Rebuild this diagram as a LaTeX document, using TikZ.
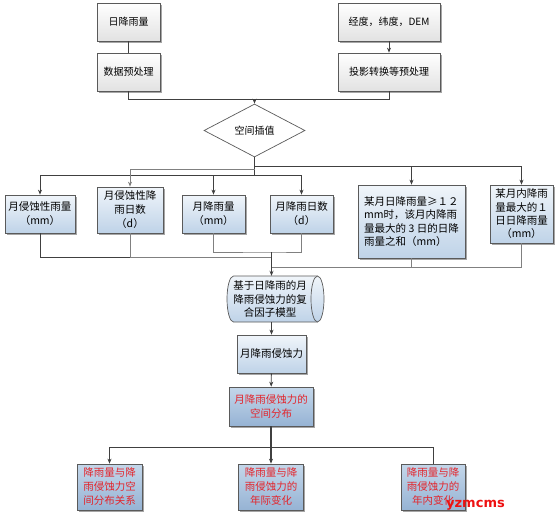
\documentclass[tikz,border=0pt]{standalone}
\usepackage{fontspec}
\setmainfont{Noto Sans CJK SC}
\newfontfamily\wmfont{DejaVu Sans}
\usetikzlibrary{shapes.geometric,arrows.meta,shadows}
\definecolor{bordc}{HTML}{5A5A5A}
\definecolor{bluet}{HTML}{F0F5FA}
\definecolor{blueb}{HTML}{BFD3E8}
\definecolor{greyb}{HTML}{E2E2E2}
\definecolor{redt}{HTML}{C4D7EA}
\definecolor{redb}{HTML}{96B3D4}
\definecolor{redtxt}{HTML}{E3242B}
\definecolor{linec}{HTML}{404040}
\definecolor{lineg}{HTML}{808080}
\definecolor{wmred}{HTML}{EE1111}
\begin{document}
\begin{tikzpicture}[x=1pt,y=-1pt]
\tikzset{
  base/.style={draw=bordc, line width=0.7pt, align=center, inner sep=1pt,
    font=\fontsize{10.5}{14}\selectfont,
    drop shadow={shadow xshift=1.5pt, shadow yshift=-1.5pt, opacity=0.35, fill=black}},
  gbox/.style={base, top color=white, bottom color=greyb, font=\fontsize{10}{14}\selectfont},
  bbox/.style={base, top color=bluet, bottom color=blueb},
  rbox/.style={base, top color=redt, bottom color=redb, text=redtxt},
  ln/.style={draw=linec, line width=0.9pt},
  lg/.style={draw=lineg, line width=0.9pt},
  arr/.style={-{Stealth[length=5pt,width=4pt]}},
  cylshape/.style={draw=bordc, line width=0.7pt, top color=bluet, bottom color=blueb},
}
\useasboundingbox (0,0) rectangle (557,514);
% top
\node[gbox, minimum width=63pt, minimum height=38pt] (t1) at (128.5,22) {日降雨量};
\node[gbox, minimum width=63pt, minimum height=38pt] (t2) at (128.5,72) {数据预处理};
\node[gbox, minimum width=102pt, minimum height=38pt] (t3) at (389,22) {经度，纬度，DEM};
\node[gbox, minimum width=102pt, minimum height=38pt] (t4) at (389,72) {投影转换等预处理};
\node[diamond, draw=bordc, fill=white, line width=0.7pt, minimum width=101pt, minimum height=53pt,
      inner sep=0pt, font=\fontsize{10}{14}\selectfont] (dia) at (254.5,130.5) {空间插值};
% row 2
\node[bbox, minimum width=70pt, minimum height=38pt] (b1) at (40,214) {月侵蚀性雨量\\（mm）};
\node[bbox, minimum width=66pt, minimum height=46pt] (b2) at (130,210) {月侵蚀性降\\雨日数\\（d）};
\node[bbox, minimum width=63pt, minimum height=38pt] (b3) at (213.5,214) {月降雨量\\（mm）};
\node[bbox, minimum width=63pt, minimum height=38pt] (b4) at (301.5,214) {月降雨日数\\（d）};
\node[bbox, minimum width=107pt, minimum height=73pt, align=left, font=\fontsize{10.5}{13.3}\selectfont] (b5) at (411.5,221.5)
  {某月日降雨量≥１２\\mm时，该月内降雨\\量最大的 3 日的日降\\雨量之和（mm）};
\node[bbox, minimum width=63pt, minimum height=58pt, font=\fontsize{10.5}{13.3}\selectfont] (b6) at (521.5,214)
  {某月内降雨\\量最大的１\\日日降雨量\\（mm）};
% model (horizontal cylinder)
\path[cylshape] (233.5,276) -- (317.5,276)
  .. controls (321.1,276) and (324,286.3) .. (324,299)
  .. controls (324,311.7) and (321.1,322) .. (317.5,322)
  -- (233.5,322)
  .. controls (229.9,322) and (227,311.7) .. (227,299)
  .. controls (227,286.3) and (229.9,276) .. (233.5,276) -- cycle;
\draw[draw=bordc, line width=0.7pt] (317.5,276) .. controls (313.9,276) and (311,286.3) .. (311,299)
  .. controls (311,311.7) and (313.9,322) .. (317.5,322);
\node[minimum width=84pt, minimum height=46pt, inner sep=0pt, align=center,
      font=\fontsize{10.5}{13.5}\selectfont] (cyl) at (270,299) {基于日降雨的月\\降雨侵蚀力的复\\合因子模型};
\node[bbox, minimum width=69pt, minimum height=38pt] (m1) at (271.5,354) {月降雨侵蚀力};
\node[rbox, minimum width=84pt, minimum height=39pt] (m2) at (271,406.5) {月降雨侵蚀力的\\空间分布};
\node[rbox, minimum width=65pt, minimum height=46pt] (r1) at (109.5,487) {降雨量与降\\雨侵蚀力空\\间分布关系};
\node[rbox, minimum width=65pt, minimum height=46pt] (r2) at (271,487) {降雨量与降\\雨侵蚀力的\\年际变化};
\node[rbox, minimum width=64pt, minimum height=46pt] (r3) at (433,487) {降雨量与降\\雨侵蚀力的\\年内变化};
\node[font=\wmfont\bfseries\fontsize{13}{13}\selectfont, text=wmred, inner sep=0pt, anchor=base west] (wm) at (446,507) {yzmcms};
% connectors top
\coordinate (j1) at (128.5,99);
\coordinate (j2) at (389,99);
\coordinate (jm) at (254.5,99);
\draw[ln] (t1) -- (t2);
\draw[ln,arr] (t3) -- (t4);
\draw[ln] (t2.south) -- (j1) -- (j2) -- (t4.south);
\draw[ln,arr] (jm) -- (dia.north);
% distribution
\coordinate (u) at (254.5,166);
\coordinate (g) at (254.5,169);
\coordinate (l) at (254.5,175);
\draw[ln, line width=1.4pt] (dia.south) -- (l);
\draw[ln,arr] (u) -| (b5.north);
\draw[ln,arr] (u) -| (b6.north);
\draw[ln,arr] (l) -| (b1.north);
\draw[ln,arr] (l) -| (b3.north);
\draw[ln,arr] (l) -| (b4.north);
\draw[lg,arr] (g) -| (b2.north);
% collection
\coordinate (c2) at (271.5,252);
\coordinate (c1) at (271.5,257);
\coordinate (c3) at (271.5,267);
\draw[ln] (b1.south) |- (c1);
\draw[lg] (b2.south) |- (c1);
\draw[lg] (b3.south) |- (c2) -| (b4.south);
\draw[lg] (b5.south) |- (c3);
\draw[lg] (b6.south) |- (c3);
\draw[ln,arr, line width=1.2pt] (c2) -- (c2 |- cyl.north);
\draw[ln,arr] (m1.north |- cyl.south) -- (m1.north);
\draw[ln,arr] (m1) -- (m2);
% results
\coordinate (h) at (271,447);
\draw[ln, line width=1.4pt] (m2.south) -- (h);
\draw[ln,arr] (h) -| (r1.north);
\draw[ln,arr, line width=1.2pt] (h) -- (r2.north);
\draw[ln] (h) -| (r3.north);
\end{tikzpicture}
\end{document}
